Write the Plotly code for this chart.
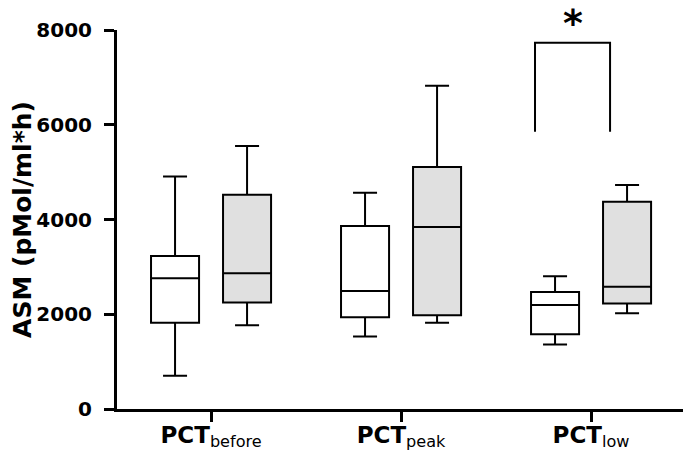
import plotly.graph_objects as go

categories = ["<b>PCT</b><sub>before</sub>", "<b>PCT</b><sub>peak</sub>", "<b>PCT</b><sub>low</sub>"]

# white boxes
white_low = [700, 1530, 1360]
white_q1 = [1820, 1935, 1580]
white_med = [2760, 2490, 2195]
white_q3 = [3230, 3865, 2470]
white_high = [4910, 4565, 2800]

# grey boxes
grey_low = [1770, 1820, 2020]
grey_q1 = [2250, 1980, 2225]
grey_med = [2865, 3840, 2580]
grey_q3 = [4525, 5110, 4375]
grey_high = [5550, 6825, 4730]

FONT = "DejaVu Sans"

fig = go.Figure()

fig.add_trace(
    go.Box(
        x=categories,
        lowerfence=white_low,
        q1=white_q1,
        median=white_med,
        q3=white_q3,
        upperfence=white_high,
        name="white",
        fillcolor="white",
        line=dict(color="black", width=2),
        whiskerwidth=0.5,
        boxpoints=False,
        offsetgroup="a",
        showlegend=False,
    )
)

fig.add_trace(
    go.Box(
        x=categories,
        lowerfence=grey_low,
        q1=grey_q1,
        median=grey_med,
        q3=grey_q3,
        upperfence=grey_high,
        name="grey",
        fillcolor="#e0e0e0",
        line=dict(color="black", width=2),
        whiskerwidth=0.5,
        boxpoints=False,
        offsetgroup="b",
        showlegend=False,
    )
)

# significance bracket over PCT low
fig.add_shape(
    type="path",
    path="M 1.705,5850 L 1.705,7730 L 2.1,7730 L 2.1,5850",
    xref="x",
    yref="y",
    line=dict(color="black", width=2),
)
fig.add_annotation(
    x=1.905,
    y=1.018,
    xref="x",
    yref="paper",
    text="*",
    showarrow=False,
    font=dict(family=FONT, size=38, color="black", weight="bold"),
    yanchor="middle",
)

# page body has an 8px margin, so the figure is a bit smaller than the window
fig.update_layout(
    width=683,
    height=450,
    plot_bgcolor="white",
    paper_bgcolor="white",
    boxmode="group",
    boxgap=0.242,
    boxgroupgap=0.333,
    margin=dict(l=109, r=0, t=22, b=49),
    font=dict(family=FONT, color="black"),
)

fig.update_xaxes(
    range=[-0.495, 2.526],
    showline=True,
    linecolor="black",
    linewidth=3,
    ticks="outside",
    ticklen=10,
    tickwidth=3,
    tickcolor="black",
    tickfont=dict(family=FONT, size=23, color="black"),
    ticklabelstandoff=-7,
    showgrid=False,
    zeroline=False,
)

fig.update_yaxes(
    range=[0, 8000],
    tickvals=[0, 2000, 4000, 6000, 8000],
    showline=True,
    linecolor="black",
    linewidth=3,
    ticks="outside",
    ticklen=10,
    tickwidth=3,
    tickcolor="black",
    tickfont=dict(family=FONT, size=20, color="black", weight="bold"),
    ticklabelstandoff=8,
    showgrid=False,
    zeroline=False,
    title=dict(
        text="<b>ASM (pMol/ml*h)</b>",
        font=dict(family=FONT, size=25, color="black"),
        standoff=6,
    ),
)

fig.write_html("out.html")
